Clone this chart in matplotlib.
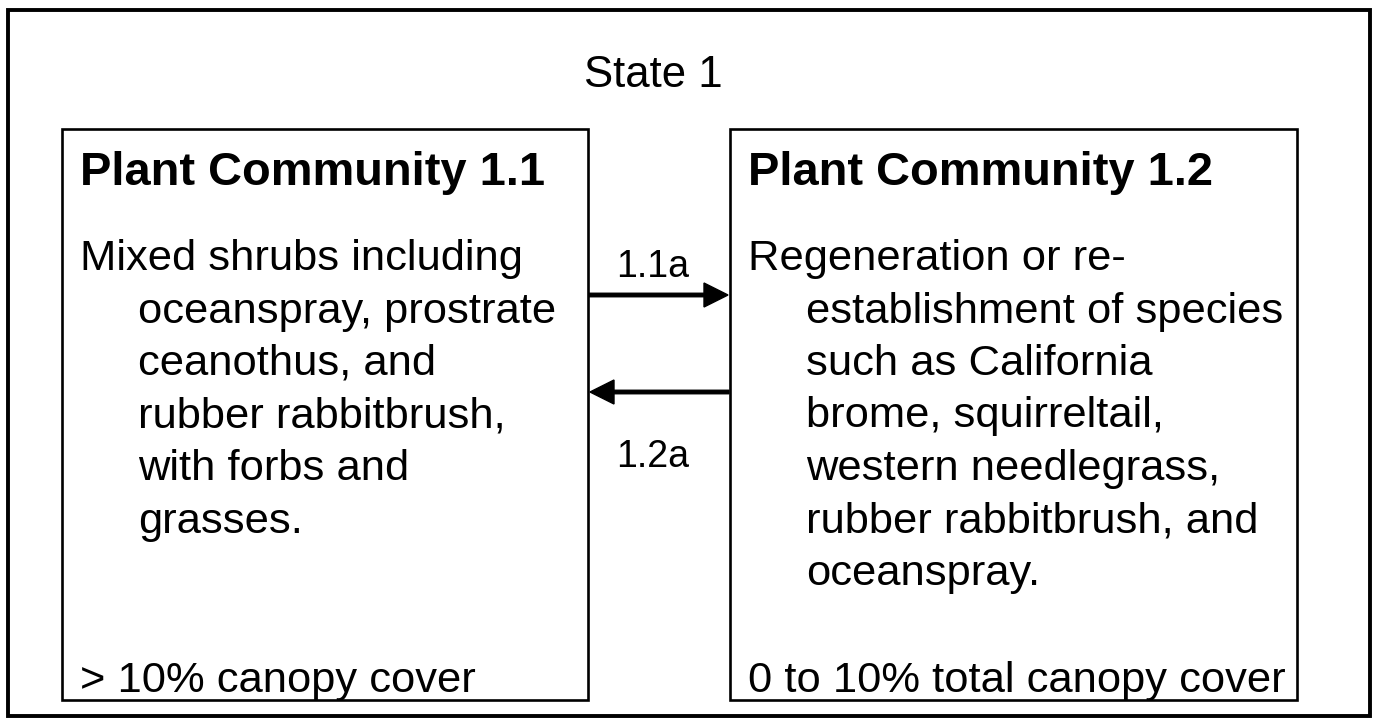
import matplotlib
matplotlib.use("Agg")
import matplotlib.pyplot as plt
from matplotlib.patches import Rectangle

plt.rcParams["font.family"] = ["Liberation Sans", "DejaVu Sans"]

W, H = 1377, 724

# diagram content
state_label = "State 1"
titles = ["Plant Community 1.1", "Plant Community 1.2"]
body_left = [
    "Mixed shrubs including",
    "oceanspray, prostrate",
    "ceanothus, and",
    "rubber rabbitbrush,",
    "with forbs and",
    "grasses.",
]
body_right = [
    "Regeneration or re-",
    "establishment of species",
    "such as California",
    "brome, squirreltail,",
    "western needlegrass,",
    "rubber rabbitbrush, and",
    "oceanspray.",
]
footers = ["> 10% canopy cover", "0 to 10% total canopy cover"]
transitions = ["1.1a", "1.2a"]

fig = plt.figure(figsize=(W / 100, H / 100), dpi=100)
ax = fig.add_axes([0, 0, 1, 1])
ax.set_xlim(0, W)
ax.set_ylim(H, 0)
ax.axis("off")

# outer state box
ax.add_patch(Rectangle((8, 10), 1362, 706, fill=False, ec="black", lw=2.8))
ax.text(653, 87, state_label, fontsize=31.5, ha="center", va="baseline")

# community boxes
box_x = [62, 730]
box_w = [526, 567]
box_top, box_bot = 129, 700
for i in range(2):
    ax.add_patch(Rectangle((box_x[i], box_top), box_w[i], box_bot - box_top,
                           fill=False, ec="black", lw=1.9))

bodies = [body_left, body_right]
for i in range(2):
    x0 = box_x[i] + 18
    ax.text(x0, 185, titles[i], fontsize=33.8, fontweight="bold", va="baseline")
    for j, line in enumerate(bodies[i]):
        # first line flush, the rest with a hanging indent
        indent = 0 if j == 0 else 58
        ax.text(x0 + indent, 270 + 52.5 * j, line, fontsize=31.3, va="baseline")
    ax.text(x0, 692, footers[i], fontsize=31.3, va="baseline")

# transitions
ax.arrow(589, 295, 139, 0, width=3.5, head_width=24, head_length=24,
         length_includes_head=True, color="black")
ax.arrow(729, 392, -139, 0, width=3.5, head_width=24, head_length=24,
         length_includes_head=True, color="black")
ax.text(653, 277, transitions[0], fontsize=27, ha="center", va="baseline")
ax.text(653, 467, transitions[1], fontsize=27, ha="center", va="baseline")

fig.savefig("out.png", dpi=100)
